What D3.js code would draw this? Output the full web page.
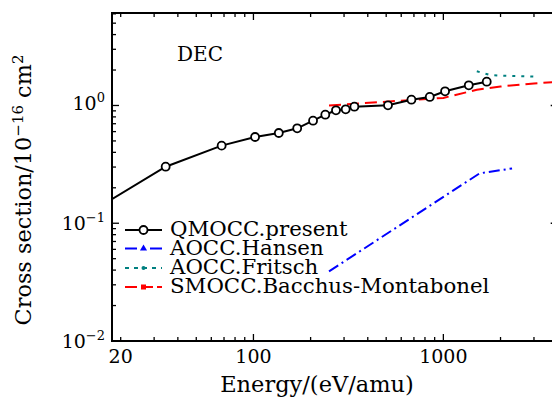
<!DOCTYPE html>
<html>
<head>
<meta charset="utf-8">
<script src="https://cdn.jsdelivr.net/npm/d3@7"></script>
<style>
  body { margin: 0; background: #fff; }
  text { font-family: "DejaVu Serif", serif; fill: #000; }
</style>
</head>
<body>
<svg id="chart" width="552" height="399"></svg>
<script>
// datos (energia en eV/amu, seccion eficaz en 1e-16 cm2)
const qmoccEnergy = [15, 34.5, 68, 102, 136, 170, 206, 239, 272, 306, 340, 511, 679, 848, 1021, 1361, 1692];
const qmoccSigma  = [0.134, 0.302, 0.456, 0.540, 0.584, 0.640, 0.743, 0.835, 0.910, 0.928, 0.977, 1.004, 1.120, 1.181, 1.320, 1.484, 1.593];

const hansenEnergy = [250, 1550, 2300];
const hansenSigma  = [0.039, 0.265, 0.292];

const fritschEnergy = [1500, 1750, 2000, 3000];
const fritschSigma  = [1.95, 1.82, 1.79, 1.76];

const smoccEnergy = [250, 1000, 1500, 2000, 3000, 4000];
const smoccSigma  = [1.0, 1.16, 1.36, 1.45, 1.54, 1.59];

const legendLabels = ['QMOCC.present', 'AOCC.Hansen', 'AOCC.Fritsch', 'SMOCC.Bacchus-Montabonel'];
const xTickLabels = [20, 100, 1000];
const yTickExps = [-2, -1, 0];

const svg = d3.select('#chart');
const m = { l: 112, t: 13, b: 341, r: 557.7 };

const x = d3.scaleLog().domain([18, 4000]).range([m.l, m.r]);
const y = d3.scaleLog().domain([0.01, 6.1]).range([m.b, m.t]);

// clip del area de trazado
svg.append('defs').append('clipPath').attr('id', 'clip')
  .append('rect').attr('x', m.l).attr('y', m.t).attr('width', m.r - m.l).attr('height', m.b - m.t);

const plot = svg.append('g').attr('clip-path', 'url(#clip)');

const line = d3.line().x(d => x(d[0])).y(d => y(d[1]));
const zip = (a, b) => a.map((v, i) => [v, b[i]]);

// series
const series = [
  { data: zip(hansenEnergy, hansenSigma), color: '#0000ff', dash: '11,4,2,4' },
  { data: zip(fritschEnergy, fritschSigma), color: '#008080', dash: '3,6' },
  { data: zip(smoccEnergy, smoccSigma), color: '#ff0000', dash: '12,6' },
  { data: zip(qmoccEnergy, qmoccSigma), color: '#000000', dash: null },
];

series.forEach(s => {
  plot.append('path').datum(s.data)
    .attr('fill', 'none')
    .attr('stroke', s.color)
    .attr('stroke-width', 2)
    .attr('stroke-dasharray', s.dash)
    .attr('d', line);
});

plot.selectAll('circle.q').data(zip(qmoccEnergy, qmoccSigma)).enter().append('circle')
  .attr('class', 'q')
  .attr('cx', d => x(d[0]))
  .attr('cy', d => y(d[1]))
  .attr('r', 4)
  .attr('fill', '#fff')
  .attr('stroke', '#000')
  .attr('stroke-width', 1.8);

// ticks hacia dentro en los cuatro lados
const ax = svg.append('g');
const xt = x.ticks();
const yt = y.ticks();
const isMajor = v => Math.abs(Math.log10(v) - Math.round(Math.log10(v))) < 1e-9;

xt.forEach(v => {
  const len = isMajor(v) ? 7 : 4;
  ax.append('line').attr('x1', x(v)).attr('x2', x(v)).attr('y1', m.b).attr('y2', m.b - len)
    .attr('stroke', '#000').attr('stroke-width', 1.3);
  ax.append('line').attr('x1', x(v)).attr('x2', x(v)).attr('y1', m.t).attr('y2', m.t + len)
    .attr('stroke', '#000').attr('stroke-width', 1.3);
});
yt.forEach(v => {
  const len = isMajor(v) ? 7 : 4;
  ax.append('line').attr('x1', m.l).attr('x2', m.l + len).attr('y1', y(v)).attr('y2', y(v))
    .attr('stroke', '#000').attr('stroke-width', 1.3);
  ax.append('line').attr('x1', m.r).attr('x2', m.r - len).attr('y1', y(v)).attr('y2', y(v))
    .attr('stroke', '#000').attr('stroke-width', 1.3);
});

ax.append('rect').attr('x', m.l).attr('y', m.t).attr('width', m.r - m.l).attr('height', m.b - m.t)
  .attr('fill', 'none').attr('stroke', '#000').attr('stroke-width', 2);

// etiquetas de ticks
xTickLabels.forEach(v => {
  svg.append('text').attr('x', x(v)).attr('y', 363)
    .attr('text-anchor', 'middle').attr('font-size', 19).text(v);
});
yTickExps.forEach(e => {
  const t = svg.append('text').attr('x', 105).attr('y', y(Math.pow(10, e)) + (e === 0 ? 5 : 7))
    .attr('text-anchor', 'end').attr('font-size', 19);
  t.append('tspan').text('10');
  t.append('tspan').attr('dy', -8).attr('font-size', 13).text(e === 0 ? '0' : '\u2212' + (-e));
});

// titulos
svg.append('text').attr('x', 177).attr('y', 61).attr('font-size', 20).text('DEC');

svg.append('text').attr('x', 317).attr('y', 392).attr('text-anchor', 'middle')
  .attr('font-size', 22.5).text('Energy/(eV/amu)');

const yl = svg.append('text').attr('transform', 'translate(31,190) rotate(-90)')
  .attr('text-anchor', 'middle').attr('font-size', 22.4);
yl.append('tspan').text('Cross section/10');
yl.append('tspan').attr('dy', -8).attr('font-size', 15).text('\u221216');
yl.append('tspan').attr('dy', 8).text(' cm');
yl.append('tspan').attr('dy', -8).attr('font-size', 15).text('2');

// leyenda
const legRows = [230, 248.5, 268, 287];
const legStyle = [
  { color: '#000', dash: null, marker: 'circle' },
  { color: '#0000ff', dash: '12,13', marker: 'triangle' },
  { color: '#008080', dash: '4,5', marker: 'dot' },
  { color: '#ff0000', dash: '12,4', marker: 'square' },
];
const leg = svg.append('g');
legendLabels.forEach((lab, i) => {
  const yy = legRows[i], st = legStyle[i];
  leg.append('line').attr('x1', 125).attr('x2', 162).attr('y1', yy).attr('y2', yy)
    .attr('stroke', st.color).attr('stroke-width', 2).attr('stroke-dasharray', st.dash);
  if (st.marker === 'circle') {
    leg.append('circle').attr('cx', 143.5).attr('cy', yy).attr('r', 4)
      .attr('fill', '#fff').attr('stroke', '#000').attr('stroke-width', 1.8);
  } else if (st.marker === 'triangle') {
    leg.append('path').attr('d', d3.symbol(d3.symbolTriangle, 22)())
      .attr('transform', `translate(143.5,${yy})`).attr('fill', st.color);
  } else if (st.marker === 'dot') {
    leg.append('circle').attr('cx', 143.5).attr('cy', yy).attr('r', 2).attr('fill', st.color);
  } else {
    leg.append('rect').attr('x', 141).attr('y', yy - 2.5).attr('width', 5).attr('height', 5).attr('fill', st.color);
  }
  leg.append('text').attr('x', 170).attr('y', yy + 6).attr('font-size', 21.3).text(lab);
});
</script>
</body>
</html>
